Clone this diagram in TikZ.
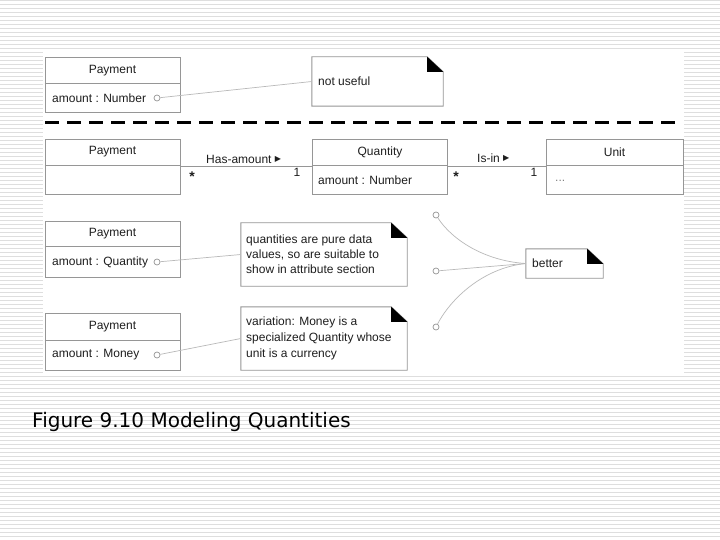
\documentclass[tikz,border=0pt]{standalone}
\usepackage{fontspec}
\setmainfont{Liberation Sans}
\newfontfamily\capfont{DejaVu Sans}
\newfontfamily\symf{DejaVu Sans}
\usetikzlibrary{calc}
\definecolor{bgline}{RGB}{222,222,222}
\definecolor{boxline}{RGB}{150,150,150}
\definecolor{txt}{RGB}{30,30,30}
\tikzset{
 bgl/.style={draw=bgline, line width=0.9pt},
 cls/.style={draw=boxline, line width=0.9pt, rectangle, inner sep=0pt},
 notebody/.style={draw=none, rectangle, inner sep=0pt},
 noteline/.style={draw=boxline, line width=0.9pt},
 lbl/.style={text=txt, font=\fontsize{12}{15}\selectfont, inner sep=0pt},
 mult/.style={text=txt, font=\fontsize{14}{15}\bfseries\selectfont, inner sep=0pt},
 port/.style={circle, draw=boxline, line width=0.7pt, minimum size=6pt, inner sep=0pt, fill=white},
 conn/.style={draw=gray!55, line width=0.7pt},
 assoc/.style={draw=boxline, line width=0.9pt},
 sepline/.style={line width=3pt, dash pattern=on 14pt off 8pt, draw=black},
}
\newcommand\umlnote[1]{%
  \draw[noteline] (#1.south west) -- (#1.north west) -- ($(#1.north east)+(-16,0)$) -- ($(#1.north east)+(0,15)$) -- (#1.south east) -- cycle;
  \fill[black] ($(#1.north east)+(-16,0)$) -- ($(#1.north east)+(-16,15)$) -- ($(#1.north east)+(0,15)$) -- cycle;
}
\newcommand\classdiv[2]{\draw[cls] ($(#1.north west)+(0,#2)$) -- ($(#1.north east)+(0,#2)$);}
\begin{document}
\begin{tikzpicture}[x=1pt,y=-1pt]
\useasboundingbox (0,0) rectangle (720,540);
\fill[white] (0,0) rectangle (720,540);
\foreach \yy in {0.7,4.7,...,540} \draw[bgl] (0,\yy) -- (720,\yy);
\fill[white] (43,52) rectangle (684,373);

% top row
\node[cls, minimum width=135pt, minimum height=55pt] (p1) at (112.5,84.5) {};
\classdiv{p1}{27}
\node[lbl] (p1n) at (112.5,71) {Payment};
\node[lbl, anchor=west] (p1a) at (52,98) {amount : Number};
\node[port] (c1) at (157,98) {};
\node[notebody, minimum width=131pt, minimum height=49pt] (n1) at (377.5,81.5) {};
\umlnote{n1}
\node[lbl, anchor=west] (n1t) at (318,81) {not useful};
\draw[conn] (c1) -- (n1.west);

% separator
\coordinate (s1) at (45,123);
\coordinate (s2) at (676,123);
\draw[sepline] (s1) -- (s2);

% second row
\node[cls, minimum width=135pt, minimum height=55pt] (p2) at (112.5,166.5) {};
\classdiv{p2}{27}
\node[lbl] (p2n) at (112.5,152) {Payment};
\node[cls, minimum width=135pt, minimum height=55pt] (q) at (379.5,166.5) {};
\classdiv{q}{27}
\node[lbl] (qn) at (380,152) {Quantity};
\node[lbl, anchor=west] (qa) at (318,180) {amount : Number};
\node[cls, minimum width=137pt, minimum height=55pt] (u) at (614.5,166.5) {};
\classdiv{u}{27}
\node[lbl] (un) at (614.5,152) {Unit};
\node[lbl, anchor=west, text=gray] (ua) at (555,181) {...};
\draw[assoc] (p2.east) -- (q.west);
\draw[assoc] (q.east) -- (u.west);
\node[lbl, anchor=west] (ha) at (206,159) {Has-amount {\symf\fontsize{8}{8}\selectfont\raisebox{1.5pt}{▶}}};
\node[mult] (m1) at (192,177) {*};
\node[lbl] (m2) at (297,172) {1};
\node[lbl, anchor=west] (ii) at (477,158) {Is-in {\symf\fontsize{8}{8}\selectfont\raisebox{1.5pt}{▶}}};
\node[mult] (m3) at (456,177) {*};
\node[lbl] (m4) at (534,172) {1};

% third row
\node[cls, minimum width=135pt, minimum height=56pt] (p3) at (112.5,249) {};
\classdiv{p3}{26}
\node[lbl] (p3n) at (112.5,234) {Payment};
\node[lbl, anchor=west] (p3a) at (52,262) {amount : Quantity};
\node[port] (c2) at (157,262) {};
\node[notebody, minimum width=166pt, minimum height=63pt] (n2) at (324,254.5) {};
\umlnote{n2}
\node[lbl, anchor=west, align=left] (n2t) at (246,254) {quantities are pure data\\values, so are suitable to\\show in attribute section};
\draw[conn] (c2) -- (n2.west);

% fourth row
\node[cls, minimum width=135pt, minimum height=57pt] (p4) at (112.5,341.5) {};
\classdiv{p4}{28}
\node[lbl] (p4n) at (112.5,327) {Payment};
\node[lbl, anchor=west] (p4a) at (52,355) {amount : Money};
\node[port] (c3) at (157,355) {};
\node[notebody, minimum width=166pt, minimum height=63pt] (n3) at (324,338.5) {};
\umlnote{n3}
\node[lbl, anchor=west, align=left, font=\fontsize{12}{16}\selectfont] (n3t) at (246,338) {variation: Money is a\\specialized Quantity whose\\unit is a currency};
\draw[conn] (c3) -- (n3.west);

% better
\node[port] (c4) at (436,215) {};
\node[port] (c5) at (436,271) {};
\node[port] (c6) at (436,327) {};
\node[notebody, minimum width=77pt, minimum height=29pt] (n4) at (564.5,263.5) {};
\umlnote{n4}
\node[lbl, anchor=west] (n4t) at (532,263) {better};
\draw[conn] (c4) .. controls (452,240) and (485,261) .. (n4.west);
\draw[conn] (c5) -- (n4.west);
\draw[conn] (c6) .. controls (450,300) and (482,268) .. (n4.west);

% caption
\node[anchor=base west, inner sep=0pt, font=\capfont\fontsize{20}{22}\selectfont] (cap) at (32,427) {Figure 9.10 Modeling Quantities};
\end{tikzpicture}
\end{document}
